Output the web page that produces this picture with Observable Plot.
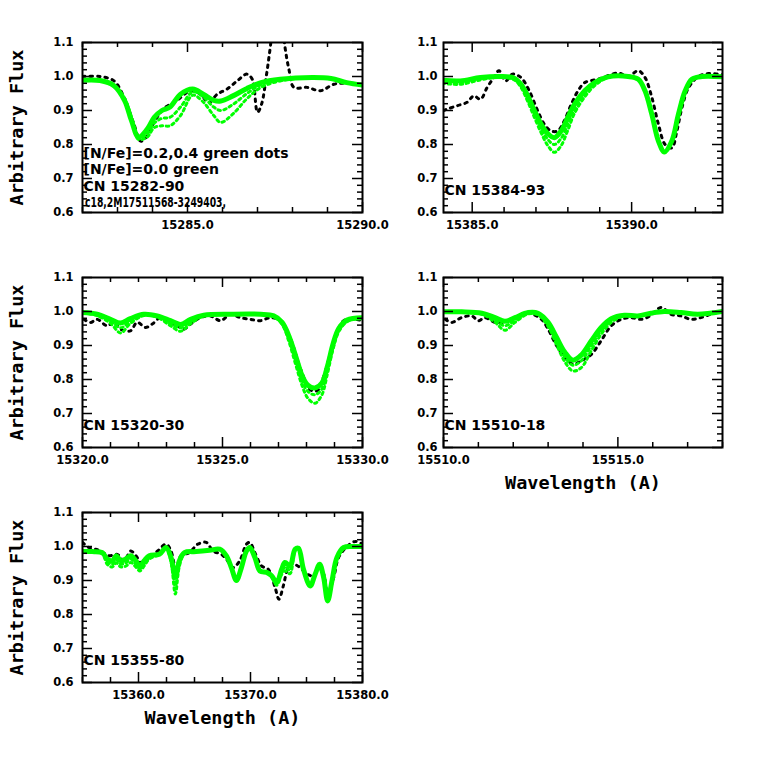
<!DOCTYPE html>
<html>
<head>
<meta charset="utf-8">
<script src="https://cdn.jsdelivr.net/npm/d3@7"></script>
<script src="https://cdn.jsdelivr.net/npm/@observablehq/plot@0.6"></script>
<style>
  html, body { margin: 0; padding: 0; background: #fff; }
  #chart { position: relative; width: 763px; height: 763px; background: #fff; overflow: hidden; }
  #chart svg { position: absolute; overflow: visible; }
</style>
</head>
<body>
<div id="chart"></div>
<script>
// ---------- shared ticks / labels ----------
const yMajorTicks = [0.6, 0.7, 0.8, 0.9, 1.0, 1.1];
const yTitle = "Arbitrary Flux";
const xTitle = "Wavelength (A)";

// ---------- Panel 1 : CN 15282-90 ----------
const p1Major = [15285, 15290];
const p1Notes = ["[N/Fe]=0.2,0.4 green dots", "[N/Fe]=0.0 green", "CN 15282-90", "c18,2M17511568-3249403,"];
const p1ObsX = [15282.0, 15282.5, 15282.9, 15283.18, 15283.47, 15283.66, 15283.85, 15284.04, 15284.32, 15284.7, 15285.09, 15285.37, 15285.61, 15285.85, 15286.13, 15286.42, 15286.7, 15286.85, 15287.0, 15287.12, 15287.25, 15287.37, 15287.5, 15287.65, 15287.78, 15287.9, 15288.04, 15288.42, 15288.8, 15289.18, 15289.56, 15290.0];
const p1ObsY = [1.0, 1.0, 0.987, 0.94, 0.86, 0.81, 0.825, 0.865, 0.905, 0.93, 0.958, 0.948, 0.924, 0.948, 0.963, 0.987, 1.007, 0.992, 0.895, 0.92, 1.0, 1.09, 1.2, 1.2, 1.09, 1.02, 0.968, 0.968, 0.958, 0.977, 0.98, 0.975];
const p1SynX = [15282.0, 15282.5, 15282.9, 15283.2, 15283.4, 15283.6, 15283.85, 15284.05, 15284.27, 15284.5, 15284.8, 15285.15, 15285.45, 15285.75, 15285.95, 15286.3, 15286.7, 15287.1, 15287.65, 15288.6, 15289.1, 15289.55, 15290.0];
const p1N0 = [0.989, 0.988, 0.973, 0.93, 0.87, 0.822, 0.845, 0.88, 0.90, 0.91, 0.948, 0.963, 0.948, 0.93, 0.928, 0.943, 0.965, 0.982, 0.992, 0.997, 0.994, 0.982, 0.975];
const p1N2 = [0.989, 0.988, 0.972, 0.935, 0.878, 0.818, 0.832, 0.863, 0.877, 0.88, 0.91, 0.955, 0.94, 0.91, 0.90, 0.918, 0.95, 0.976, 0.99, 0.997, 0.994, 0.982, 0.975];
const p1N4 = [0.989, 0.988, 0.971, 0.935, 0.88, 0.815, 0.822, 0.85, 0.855, 0.855, 0.885, 0.945, 0.925, 0.885, 0.865, 0.89, 0.935, 0.968, 0.987, 0.997, 0.994, 0.982, 0.975];

// ---------- Panel 2 : CN 15384-93 ----------
const p2Major = [15385, 15390];
const p2Notes = ["CN 15384-93"];
const p2ObsX = [15384.1, 15384.21, 15384.53, 15384.84, 15385.05, 15385.26, 15385.47, 15385.68, 15385.84, 15386.05, 15386.26, 15386.53, 15386.79, 15387.05, 15387.26, 15387.47, 15387.68, 15387.89, 15388.11, 15388.32, 15388.53, 15388.95, 15389.58, 15389.89, 15390.21, 15390.42, 15390.63, 15390.84, 15391.05, 15391.26, 15391.42, 15391.58, 15391.79, 15392.1, 15392.42, 15392.85];
const p2ObsY = [0.9, 0.904, 0.914, 0.924, 0.943, 0.933, 0.968, 0.997, 1.017, 0.987, 1.007, 0.997, 0.958, 0.90, 0.86, 0.84, 0.84, 0.87, 0.919, 0.958, 0.982, 0.992, 1.01, 1.0, 1.017, 0.997, 0.94, 0.86, 0.80, 0.79, 0.84, 0.909, 0.968, 1.0, 1.009, 1.005];
const p2SynX = [15384.06, 15384.63, 15385.26, 15385.89, 15386.32, 15386.53, 15386.74, 15386.95, 15387.16, 15387.37, 15387.58, 15387.79, 15388.0, 15388.21, 15388.53, 15388.84, 15389.26, 15389.89, 15390.21, 15390.42, 15390.63, 15390.84, 15391.03, 15391.26, 15391.47, 15391.68, 15391.89, 15392.21, 15392.85];
const p2N0 = [0.989, 0.987, 0.997, 1.0, 0.995, 0.977, 0.943, 0.90, 0.86, 0.832, 0.82, 0.84, 0.88, 0.919, 0.958, 0.982, 0.999, 1.0, 0.992, 0.958, 0.89, 0.81, 0.778, 0.81, 0.89, 0.958, 0.992, 1.0, 0.999];
const p2N2 = [0.985, 0.982, 0.994, 0.999, 0.993, 0.973, 0.935, 0.89, 0.848, 0.815, 0.80, 0.818, 0.86, 0.905, 0.948, 0.977, 0.998, 1.0, 0.992, 0.958, 0.89, 0.81, 0.778, 0.81, 0.89, 0.958, 0.992, 1.0, 0.999];
const p2N4 = [0.98, 0.977, 0.99, 0.998, 0.99, 0.968, 0.927, 0.88, 0.835, 0.797, 0.777, 0.797, 0.842, 0.892, 0.94, 0.973, 0.997, 1.0, 0.992, 0.958, 0.89, 0.81, 0.778, 0.81, 0.89, 0.958, 0.992, 1.0, 0.999];

// ---------- Panel 3 : CN 15320-30 ----------
const p3Major = [15320, 15325, 15330];
const p3Notes = ["CN 15320-30"];
const p3ObsX = [15320.05, 15320.29, 15320.52, 15320.88, 15321.12, 15321.36, 15321.71, 15321.95, 15322.25, 15322.49, 15322.79, 15323.08, 15323.38, 15323.62, 15323.86, 15324.21, 15324.57, 15324.93, 15325.29, 15325.64, 15326.0, 15326.36, 15326.71, 15327.07, 15327.43, 15327.79, 15328.14, 15328.38, 15328.62, 15328.86, 15329.1, 15329.33, 15329.69, 15330.0];
const p3ObsY = [0.977, 0.968, 0.977, 0.958, 0.968, 0.948, 0.943, 0.968, 0.953, 0.963, 0.982, 0.968, 0.958, 0.948, 0.963, 0.982, 0.987, 0.973, 0.992, 0.982, 0.977, 0.973, 0.982, 0.973, 0.919, 0.83, 0.77, 0.767, 0.81, 0.88, 0.94, 0.973, 0.977, 0.973];
const p3SynX = [15320.0, 15320.52, 15321.0, 15321.36, 15321.71, 15322.19, 15322.67, 15323.14, 15323.5, 15323.86, 15324.33, 15325.29, 15326.36, 15326.83, 15327.13, 15327.37, 15327.61, 15327.85, 15328.05, 15328.3, 15328.55, 15328.75, 15328.95, 15329.15, 15329.45, 15330.0];
const p3N0 = [0.997, 0.992, 0.977, 0.966, 0.979, 0.992, 0.987, 0.973, 0.962, 0.977, 0.989, 0.992, 0.992, 0.987, 0.968, 0.928, 0.87, 0.81, 0.783, 0.775, 0.79, 0.84, 0.905, 0.95, 0.975, 0.982];
const p3N2 = [0.997, 0.99, 0.972, 0.952, 0.972, 0.99, 0.985, 0.965, 0.952, 0.97, 0.988, 0.992, 0.992, 0.986, 0.965, 0.92, 0.858, 0.795, 0.765, 0.755, 0.772, 0.83, 0.897, 0.945, 0.972, 0.982];
const p3N4 = [0.997, 0.988, 0.965, 0.937, 0.965, 0.988, 0.983, 0.958, 0.942, 0.964, 0.987, 0.992, 0.992, 0.985, 0.962, 0.912, 0.845, 0.78, 0.745, 0.73, 0.755, 0.818, 0.89, 0.94, 0.97, 0.982];

// ---------- Panel 4 : CN 15510-18 ----------
const p4Major = [15510, 15515];
const p4Notes = ["CN 15510-18"];
const p4ObsX = [15510.05, 15510.24, 15510.52, 15510.81, 15511.0, 15511.19, 15511.48, 15511.76, 15512.05, 15512.43, 15512.81, 15513.0, 15513.24, 15513.48, 15513.71, 15513.95, 15514.24, 15514.52, 15514.81, 15515.1, 15515.38, 15515.67, 15515.95, 15516.24, 15516.52, 15516.81, 15517.1, 15517.38, 15517.67, 15517.95];
const p4ObsY = [0.977, 0.968, 0.982, 0.987, 0.973, 0.982, 0.968, 0.968, 0.982, 0.995, 0.977, 0.948, 0.90, 0.865, 0.845, 0.855, 0.874, 0.914, 0.958, 0.977, 0.982, 0.977, 0.989, 1.012, 0.992, 0.987, 0.977, 0.982, 0.992, 1.0];
const p4SynX = [15510.0, 15510.52, 15511.1, 15511.48, 15511.76, 15512.05, 15512.43, 15512.71, 15513.0, 15513.24, 15513.48, 15513.71, 15513.95, 15514.24, 15514.52, 15514.81, 15515.19, 15515.57, 15515.95, 15516.33, 15516.81, 15517.29, 15518.0];
const p4N0 = [0.999, 0.999, 0.995, 0.982, 0.971, 0.982, 0.997, 0.995, 0.968, 0.924, 0.88, 0.857, 0.872, 0.914, 0.953, 0.979, 0.989, 0.987, 0.995, 1.0, 0.997, 0.992, 1.0];
const p4N2 = [0.999, 0.999, 0.994, 0.975, 0.958, 0.975, 0.995, 0.993, 0.962, 0.913, 0.866, 0.842, 0.855, 0.9, 0.943, 0.974, 0.988, 0.987, 0.995, 1.0, 0.997, 0.992, 1.0];
const p4N4 = [0.999, 0.998, 0.992, 0.968, 0.945, 0.968, 0.993, 0.99, 0.956, 0.903, 0.852, 0.825, 0.835, 0.885, 0.933, 0.968, 0.987, 0.987, 0.995, 1.0, 0.997, 0.992, 1.0];

// ---------- Panel 5 : CN 15355-80 ----------
const p5Major = [15360, 15370, 15380];
const p5Notes = ["CN 15355-80"];
const p5ObsX = [15355.0, 15355.57, 15356.47, 15357.37, 15358.11, 15358.71, 15359.31, 15359.76, 15360.36, 15360.96, 15361.71, 15362.46, 15362.9, 15363.35, 15363.8, 15364.55, 15365.3, 15366.05, 15366.65, 15367.4, 15367.84, 15368.44, 15369.04, 15369.64, 15369.94, 15370.39, 15370.99, 15371.59, 15372.19, 15372.54, 15372.93, 15373.38, 15373.83, 15374.43, 15375.03, 15375.63, 15376.08, 15376.53, 15376.89, 15377.43, 15377.87, 15378.62, 15379.37, 15380.0];
const p5ObsY = [1.012, 0.997, 0.989, 0.973, 0.977, 0.958, 0.987, 0.973, 0.948, 0.968, 0.987, 1.007, 0.987, 0.933, 0.973, 0.982, 1.007, 1.012, 0.987, 0.977, 0.963, 0.938, 0.958, 1.007, 1.012, 0.982, 0.943, 0.933, 0.88, 0.845, 0.884, 0.938, 0.948, 0.938, 0.919, 0.914, 0.938, 0.919, 0.86, 0.909, 0.968, 1.0, 1.015, 1.007];
const p5SynX = [15355.0, 15355.87, 15356.77, 15357.22, 15357.66, 15358.02, 15358.41, 15358.86, 15359.31, 15359.76, 15360.12, 15360.51, 15360.96, 15361.86, 15362.46, 15362.9, 15363.29, 15363.65, 15364.1, 15365.15, 15366.35, 15367.25, 15367.84, 15368.29, 15368.74, 15369.19, 15369.64, 15369.94, 15370.39, 15370.84, 15371.44, 15371.89, 15372.34, 15372.78, 15373.08, 15373.53, 15373.98, 15374.28, 15374.73, 15375.33, 15375.78, 15376.17, 15376.53, 15376.89, 15377.28, 15377.72, 15378.32, 15379.22, 15380.0];
const p5N0 = [0.985, 0.985, 0.982, 0.963, 0.958, 0.973, 0.958, 0.963, 0.973, 0.958, 0.943, 0.958, 0.973, 0.977, 0.997, 0.968, 0.909, 0.958, 0.982, 0.985, 0.989, 0.992, 0.973, 0.938, 0.90, 0.938, 0.987, 0.997, 0.968, 0.928, 0.924, 0.914, 0.894, 0.933, 0.953, 0.943, 0.992, 0.995, 0.933, 0.884, 0.919, 0.948, 0.909, 0.84, 0.90, 0.968, 0.997, 1.0, 1.0];
const p5N2 = [0.985, 0.985, 0.98, 0.955, 0.948, 0.962, 0.948, 0.952, 0.963, 0.948, 0.935, 0.95, 0.968, 0.977, 0.996, 0.962, 0.885, 0.95, 0.98, 0.985, 0.989, 0.992, 0.973, 0.938, 0.90, 0.938, 0.987, 0.997, 0.968, 0.928, 0.924, 0.912, 0.89, 0.925, 0.94, 0.93, 0.99, 0.995, 0.933, 0.884, 0.919, 0.948, 0.909, 0.84, 0.90, 0.966, 0.996, 1.0, 1.0];
const p5N4 = [0.985, 0.985, 0.978, 0.947, 0.94, 0.952, 0.94, 0.942, 0.953, 0.94, 0.928, 0.943, 0.963, 0.977, 0.995, 0.955, 0.86, 0.942, 0.978, 0.985, 0.989, 0.992, 0.973, 0.938, 0.90, 0.938, 0.987, 0.997, 0.968, 0.928, 0.924, 0.91, 0.886, 0.918, 0.928, 0.92, 0.988, 0.995, 0.933, 0.884, 0.919, 0.948, 0.909, 0.84, 0.90, 0.964, 0.995, 1.0, 1.0];

// ---------- layout / style ----------
const GREEN = "#00ff00";
const panels = [
  {frame: [82, 42, 362, 212], domain: [15282, 15290], major: p1Major, minorStep: 1, obs: [p1ObsX, p1ObsY], syn: [p1SynX, p1N0, p1N2, p1N4], notes: p1Notes, noteDy: [-59, -42.5, -26, -9.5], yT: true, xT: false, yPad: 9},
  {frame: [443, 42, 722, 212], domain: [15384.1, 15392.85], major: p2Major, minorStep: 1, obs: [p2ObsX, p2ObsY], syn: [p2SynX, p2N0, p2N2, p2N4], notes: p2Notes, noteDy: [-22], yT: false, xT: false, yPad: 6},
  {frame: [82, 277, 362, 447], domain: [15320, 15330], major: p3Major, minorStep: 1, obs: [p3ObsX, p3ObsY], syn: [p3SynX, p3N0, p3N2, p3N4], notes: p3Notes, noteDy: [-22], yT: true, xT: false, yPad: 9},
  {frame: [443, 277, 722, 447], domain: [15510, 15518], major: p4Major, minorStep: 1, obs: [p4ObsX, p4ObsY], syn: [p4SynX, p4N0, p4N2, p4N4], notes: p4Notes, noteDy: [-22], yT: false, xT: true, yPad: 6},
  {frame: [82, 512, 362, 682], domain: [15355, 15380], major: p5Major, minorStep: 2.5, obs: [p5ObsX, p5ObsY], syn: [p5SynX, p5N0, p5N2, p5N4], notes: p5Notes, noteDy: [-22], yT: true, xT: true, yPad: 9}
];

const chart = document.getElementById("chart");
const yMinor = d3.range(30, 56).map(i => i / 50).filter(v => !yMajorTicks.some(m => Math.abs(m - v) < 1e-6));

for (const c of panels) {
  const mL = 82, mT = 20, mR = 30, mB = 50;
  const fw = c.frame[2] - c.frame[0], fh = c.frame[3] - c.frame[1];
  const start = Math.ceil(c.domain[0] / c.minorStep - 1e-9) * c.minorStep;
  const minor = d3.range(start, c.domain[1] + 1e-9, c.minorStep)
    .filter(v => !c.major.some(m => Math.abs(m - v) < 1e-6));
  const tk = {stroke: "black", strokeWidth: 1.5};
  const curve = "catmull-rom";
  const axisFont = {fontSize: 11.5, fontWeight: "bold", fontFamily: "DejaVu Sans"};
  const marks = [
    Plot.line(c.obs[0], {x: c.obs[0], y: c.obs[1], stroke: "black", strokeWidth: 3, strokeDasharray: "2.5,5", curve, clip: true}),
    Plot.line(c.syn[0], {x: c.syn[0], y: c.syn[3], stroke: GREEN, strokeWidth: 3, strokeDasharray: "2.5,3.5", curve, clip: true}),
    Plot.line(c.syn[0], {x: c.syn[0], y: c.syn[2], stroke: GREEN, strokeWidth: 3, strokeDasharray: "2.5,3.5", curve, clip: true}),
    Plot.line(c.syn[0], {x: c.syn[0], y: c.syn[1], stroke: GREEN, strokeWidth: 5, curve, clip: true}),
    Plot.frame({stroke: "black", strokeWidth: 2}),
    Plot.tickX(c.major, {x: d => d, insetTop: fh - 10, ...tk}),
    Plot.tickX(c.major, {x: d => d, insetBottom: fh - 10, ...tk}),
    Plot.tickX(minor, {x: d => d, insetTop: fh - 5, ...tk}),
    Plot.tickX(minor, {x: d => d, insetBottom: fh - 5, ...tk}),
    Plot.tickY(yMajorTicks, {y: d => d, insetRight: fw - 10, ...tk}),
    Plot.tickY(yMajorTicks, {y: d => d, insetLeft: fw - 10, ...tk}),
    Plot.tickY(yMinor, {y: d => d, insetRight: fw - 5, ...tk}),
    Plot.tickY(yMinor, {y: d => d, insetLeft: fw - 5, ...tk}),
    Plot.axisX(c.major, {anchor: "bottom", tickSize: 0, tickPadding: 8, tickFormat: d => d.toFixed(1), label: null, ...axisFont}),
    Plot.axisY(yMajorTicks, {anchor: "left", tickSize: 0, tickPadding: c.yPad, tickFormat: d => d.toFixed(1), label: null, ...axisFont})
  ];
  c.notes.forEach((t, i) => {
    const small = t.startsWith("c18");
    marks.push(Plot.text([t], {text: d => d, frameAnchor: "bottom-left", textAnchor: "start", lineAnchor: "middle", dx: small ? 2.5 : 1, dy: c.noteDy[i], fontSize: small ? 13.5 : 14, fontWeight: "bold", fontFamily: "DejaVu Sans", fill: "black"}));
  });
  if (c.yT) marks.push(Plot.text([yTitle], {text: d => d, frameAnchor: "left", textAnchor: "middle", lineAnchor: "middle", rotate: -90, dx: -65, fontSize: 18.5, fontWeight: "bold", fontFamily: "DejaVu Sans Mono", fill: "black"}));
  if (c.xT) marks.push(Plot.text([xTitle], {text: d => d, frameAnchor: "bottom", textAnchor: "middle", lineAnchor: "middle", dy: 36, fontSize: 18.5, fontWeight: "bold", fontFamily: "DejaVu Sans Mono", fill: "black"}));

  const svg = Plot.plot({
    width: mL + fw + mR,
    height: mT + fh + mB,
    marginLeft: mL, marginTop: mT, marginRight: mR, marginBottom: mB,
    x: {domain: c.domain},
    y: {domain: [0.6, 1.1]},
    style: {background: "transparent", overflow: "visible", fontFamily: "DejaVu Sans", fontSize: "12px", color: "black"},
    marks
  });
  svg.style.left = (c.frame[0] - mL) + "px";
  svg.style.top = (c.frame[1] - mT) + "px";
  // condense the long star identifier to the width it has in the source figure
  d3.select(svg).selectAll("text").filter(function () { return this.textContent.startsWith("c18"); })
    .attr("textLength", 141).attr("lengthAdjust", "spacingAndGlyphs");
  chart.appendChild(svg);
}
</script>
</body>
</html>
